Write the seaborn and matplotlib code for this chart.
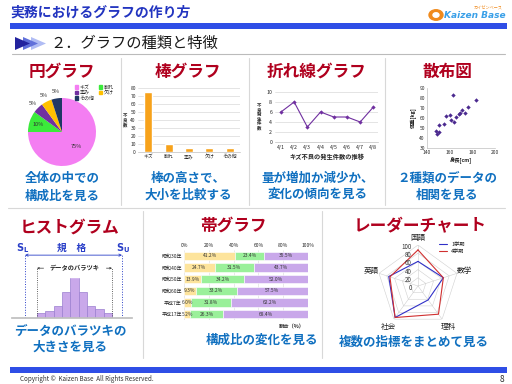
import numpy as np
import matplotlib
matplotlib.use('Agg')
import matplotlib.pyplot as plt
import seaborn as sns
from matplotlib.lines import Line2D
from matplotlib.patches import Polygon, Circle, Patch
from matplotlib.transforms import offset_copy

# ---- データ ----
pie_labels = ['キズ', '割れ', '歪み', '欠け', 'その他']
pie_values = [75, 10, 5, 5, 5]
pie_colors = ['#F47EF2', '#3BEA3B', '#7030A0', '#FFC000', '#1F3864']

bar_labels = ['キズ', '割れ', '歪み', '欠け', 'その他']
bar_values = [75, 10, 5, 5, 5]

line_dates = ['4/1', '4/2', '4/3', '4/4', '4/5', '4/6', '4/7', '4/8']
line_counts = [6, 8, 3, 6, 5, 5, 4, 7]

heights = [162.5, 148.2, 148.8, 150.2, 150.8, 155.2, 157.0, 160.5, 161.0,
           164.0, 165.7, 167.8, 169.2, 170.7, 173.6, 176.0, 183.3]
weights = [83.3, 47.3, 44.0, 45.7, 53.3, 54.0, 61.7, 63.3, 58.3,
           55.7, 60.7, 64.0, 64.7, 67.7, 65.0, 70.7, 78.3]

hist_classes = [1, 2, 3, 4, 5, 6, 7, 8, 9]
hist_counts = [2, 3, 5, 11, 18, 11, 5, 4, 2]

band_years = ['昭和30年', '昭和40年', '昭和50年', '昭和60年', '平成7年', '平成17年']
band_a = [41.2, 24.7, 13.9, 9.3, 6.0, 5.2]
band_b = [23.4, 31.5, 34.2, 33.2, 31.8, 26.3]
band_c = [35.5, 43.7, 52.0, 57.5, 62.2, 68.4]
band_colors = ['#FDE49C', '#9AF09A', '#C9A8EA']

subjects = ['国語', '数学', '理科', '社会', '英語']
term1 = [60, 65, 42, 95, 75]
term4 = [88, 65, 85, 95, 72]

# ---- 図の準備 ----
sns.set_theme(style='white')
plt.rcParams['font.family'] = ['Noto Sans CJK JP', 'DejaVu Sans']
plt.rcParams['axes.unicode_minus'] = False

W, H = 512, 384
fig = plt.figure(figsize=(W / 100, H / 100), dpi=100)
fig.patch.set_facecolor('white')


def box(x0, y0, x1, y1):
    # ピクセル座標 -> figure座標
    return [x0 / W, 1 - y1 / H, (x1 - x0) / W, (y1 - y0) / H]


def ftext(x, y, s, **kw):
    fig.text(x / W, 1 - y / H, s, **kw)


def fline(x0, y0, x1, y1, **kw):
    fig.add_artist(Line2D([x0 / W, x1 / W], [1 - y0 / H, 1 - y1 / H],
                          transform=fig.transFigure, **kw))


TITLE_C = '#B0001E'
DESC_C = '#1070C0'

# ---- ヘッダー ----
ftext(10, 13, '実務におけるグラフの作り方', fontsize=10, fontweight='bold',
      color='#2234C0', va='center')
fig.add_artist(Polygon([[10 / W, 1 - 23 / H], [507 / W, 1 - 23 / H],
                        [507 / W, 1 - 28.5 / H], [10 / W, 1 - 28.5 / H]],
                       transform=fig.transFigure, color='#2F4EE6', lw=0))
fig.add_artist(Circle((436 / W, 1 - 15 / H), 7 / W, transform=fig.transFigure,
                      color='#F08A1C'))
fig.add_artist(Circle((436 / W, 1 - 15 / H), 3 / W, transform=fig.transFigure,
                      color='white'))
ftext(444, 16, 'Kaizen Base', fontsize=6.5, fontweight='bold', style='italic',
      color='#3AA0E8', va='center', family='DejaVu Sans')
ftext(488, 7, 'カイゼンベース', fontsize=3, color='#F08A1C', va='center', ha='center')

# サブタイトルの矢印
for i, c in zip([2, 1, 0], ['#B0BCF4', '#6070DA', '#23239E']):
    x0 = 15 + i * 8
    fig.add_artist(Polygon([[x0 / W, 1 - 37 / H], [x0 / W, 1 - 50 / H],
                            [(x0 + 15) / W, 1 - 43.5 / H]],
                           transform=fig.transFigure, color=c, lw=0))
ftext(50, 43.5, '２．グラフの種類と特徴', fontsize=11, color='#1A1A1A', va='center')
fline(12, 54, 505, 54, color='#BBBBBB', lw=0.8)

# パネルの区切り線
for x in [121, 249, 385]:
    fline(x, 58, x, 205, color='#D8D8D8', lw=0.8)
fline(8, 208, 505, 208, color='#D8D8D8', lw=0.8)
for x in [143, 322]:
    fline(x, 211, x, 358, color='#D8D8D8', lw=0.8)

# ---- 円グラフ ----
ftext(62, 72, '円グラフ', fontsize=12, fontweight='bold', color=TITLE_C,
      ha='center', va='center')
ax = fig.add_axes(box(28, 98, 96, 166))
wedges, _ = ax.pie(pie_values, colors=pie_colors, startangle=90,
                   counterclock=False, wedgeprops=dict(lw=0))
for w, v in zip(wedges, pie_values):
    ang = np.deg2rad((w.theta1 + w.theta2) / 2)
    r = 0.6 if v > 50 else (0.75 if v >= 10 else 1.2)
    ax.text(r * np.cos(ang), r * np.sin(ang), f'{v}%', fontsize=4,
            ha='center', va='center', color='#333333')
ax.set_xlim(-1, 1)
ax.set_ylim(-1, 1)
ax.set_aspect('equal')
order = [0, 2, 4, 1, 3]
handles = [Patch(color=pie_colors[i], label=pie_labels[i]) for i in order]
fig.legend(handles=handles, ncol=2, loc='upper left',
           bbox_to_anchor=(72 / W, 1 - 82 / H), fontsize=3.6, frameon=False,
           handlelength=0.7, handleheight=0.7, handletextpad=0.3,
           columnspacing=0.8, labelspacing=0.1, borderpad=0)
ftext(62, 179, '全体の中での', fontsize=9, fontweight='bold', color=DESC_C,
      ha='center', va='center')
ftext(62, 196, '構成比を見る', fontsize=9, fontweight='bold', color=DESC_C,
      ha='center', va='center')

# ---- 棒グラフ ----
ftext(188, 72, '棒グラフ', fontsize=12, fontweight='bold', color=TITLE_C,
      ha='center', va='center')
ax = fig.add_axes(box(138, 88, 240, 152))
sns.barplot(x=bar_labels, y=bar_values, color='#F7A21B', width=0.4,
            saturation=1, ax=ax)
ax.set_ylim(0, 80)
ax.set_yticks(range(0, 81, 10))
ax.yaxis.grid(True, color='#D9D9D9', lw=0.5)
ax.set_axisbelow(True)
ax.tick_params(labelsize=3.5, length=0, pad=1.5)
for s in ['top', 'right', 'left']:
    ax.spines[s].set_visible(False)
ax.spines['bottom'].set_color('#BFBFBF')
ax.spines['bottom'].set_linewidth(0.5)
ax.set_ylabel('不\n良\n数', fontsize=3.2, rotation=0, labelpad=4,
              va='center', linespacing=0.9, fontweight='bold')
ftext(188, 178, '棒の高さで、', fontsize=9, fontweight='bold', color=DESC_C,
      ha='center', va='center')
ftext(188, 195, '大小を比較する', fontsize=9, fontweight='bold', color=DESC_C,
      ha='center', va='center')

# ---- 折れ線グラフ ----
ftext(317, 72, '折れ線グラフ', fontsize=12, fontweight='bold', color=TITLE_C,
      ha='center', va='center')
ax = fig.add_axes(box(275, 92, 378, 142))
sns.lineplot(x=line_dates, y=line_counts, color='#7030A0', marker='D',
             markersize=2.2, markeredgewidth=0, lw=0.8, ax=ax)
ax.set_ylim(0, 10)
ax.set_yticks(range(0, 11, 2))
ax.set_xlim(-0.45, 7.35)
ax.yaxis.grid(True, color='#D9D9D9', lw=0.5)
ax.set_axisbelow(True)
ax.tick_params(labelsize=3.8, length=0, pad=2)
for s in ['top', 'right', 'left']:
    ax.spines[s].set_visible(False)
ax.spines['bottom'].set_color('#BFBFBF')
ax.spines['bottom'].set_linewidth(0.5)
ax.set_ylabel('不\n良\n発\n生\n件\n数', fontsize=3.2, rotation=0, labelpad=5,
              va='center', linespacing=0.9, fontweight='bold')
ax.set_xlabel('キズ不良の発生件数の推移', fontsize=4.5, fontweight='bold',
              labelpad=2)
ftext(318, 178, '量が増加か減少か、', fontsize=9, fontweight='bold', color=DESC_C,
      ha='center', va='center')
ftext(318, 194, '変化の傾向を見る', fontsize=9, fontweight='bold', color=DESC_C,
      ha='center', va='center')

# ---- 散布図 ----
ftext(447, 72, '散布図', fontsize=12, fontweight='bold', color=TITLE_C,
      ha='center', va='center')
ax = fig.add_axes(box(427, 88, 495, 148))
sns.scatterplot(x=heights, y=weights, color='#4B2A8F', marker='D', s=5,
                linewidth=0, ax=ax)
ax.set_xlim(140, 200)
ax.set_ylim(30, 90)
ax.set_xticks(range(140, 201, 20))
ax.set_yticks(range(30, 91, 10))
ax.tick_params(labelsize=3.5, length=0, pad=1.5)
for s in ['top', 'right']:
    ax.spines[s].set_visible(False)
for s in ['left', 'bottom']:
    ax.spines[s].set_color('#BFBFBF')
    ax.spines[s].set_linewidth(0.5)
ax.set_xlabel('身長[cm]', fontsize=3.8, fontweight='bold', labelpad=1.5)
ax.set_ylabel('体重[kg]', fontsize=3.8, fontweight='bold', labelpad=1.5)
ftext(447, 178, '２種類のデータの', fontsize=9, fontweight='bold', color=DESC_C,
      ha='center', va='center')
ftext(447, 195, '相関を見る', fontsize=9, fontweight='bold', color=DESC_C,
      ha='center', va='center')

# ---- ヒストグラム ----
ftext(70, 228, 'ヒストグラム', fontsize=12, fontweight='bold', color=TITLE_C,
      ha='center', va='center')
ax = fig.add_axes(box(12, 240, 132, 318))
sns.histplot(x=hist_classes, weights=hist_counts, discrete=True,
             color='#C9A8EA', edgecolor='#9B7FD0', linewidth=0.5, alpha=1, ax=ax)
ax.set_xlim(-2.5, 11.9)
ax.set_ylim(0, 33.5)
ax.set_xticks([])
ax.set_yticks([])
ax.set_ylabel('')
for s in ['top', 'right', 'left']:
    ax.spines[s].set_visible(False)
ax.spines['bottom'].set_color('#BFBFBF')
sl, su = -0.94, 10.7
blue = '#2A3FC8'
for x in [sl, su]:
    ax.plot([x, x], [0, 27], ls=':', color=blue, lw=0.7)
ax.annotate('', xy=(sl, 27), xytext=(su, 27),
            arrowprops=dict(arrowstyle='<->', color=blue, lw=0.6,
                            mutation_scale=4, shrinkA=0, shrinkB=0))
for x in [0.5, 9.5]:
    ax.plot([x, x], [0, 21.4], ls=':', color='#333333', lw=0.6)
ax.annotate('', xy=(0.5, 21.4), xytext=(9.5, 21.4),
            arrowprops=dict(arrowstyle='<->', color='#333333', lw=0.5,
                            mutation_scale=3, shrinkA=0, shrinkB=0))
ax.text(5, 21.4, 'データのバラツキ', fontsize=4.5, fontweight='bold',
        ha='center', va='center', backgroundcolor='white', color='#222222')
ftext(23, 248, r'$\mathbf{S_L}$', fontsize=7, color=blue, ha='center', va='center')
ftext(123, 248, r'$\mathbf{S_U}$', fontsize=7, color=blue, ha='center', va='center')
ftext(72, 248, '規　格', fontsize=7, fontweight='bold', color=blue,
      ha='center', va='center')
ftext(70, 331, 'データのバラツキの', fontsize=9, fontweight='bold', color=DESC_C,
      ha='center', va='center')
ftext(70, 347, '大きさを見る', fontsize=9, fontweight='bold', color=DESC_C,
      ha='center', va='center')

# ---- 帯グラフ ----
ftext(233, 226, '帯グラフ', fontsize=12, fontweight='bold', color=TITLE_C,
      ha='center', va='center')
ax = fig.add_axes(box(184, 250, 308, 320))
left = np.zeros(len(band_years))
for vals, c in zip([band_a, band_b, band_c], band_colors):
    bars = ax.barh(band_years, vals, left=left, color=c, height=0.72,
                   edgecolor='white', linewidth=0.4)
    ax.bar_label(bars, labels=[f'{v:.1f}%' for v in vals], label_type='center',
                 fontsize=3.5, color='#333333')
    left += np.array(vals)
ax.set_xlim(0, 100)
ax.set_ylim(len(band_years) - 0.5, -0.5)
ax.set_xticks(range(0, 101, 20))
ax.set_xticklabels([f'{v}%' for v in range(0, 101, 20)])
ax.xaxis.tick_top()
ax.xaxis.grid(True, color='#D9D9D9', lw=0.4)
ax.set_axisbelow(True)
ax.tick_params(labelsize=3.6, length=0, pad=1.5)
for s in ax.spines.values():
    s.set_visible(False)
ftext(305, 327, '割合（%）', fontsize=3.8, fontweight='bold', ha='right',
      va='center')
ftext(262, 340, '構成比の変化を見る', fontsize=9, fontweight='bold', color=DESC_C,
      ha='center', va='center')

# ---- レーダーチャート ----
ftext(420, 226, 'レーダーチャート', fontsize=12, fontweight='bold', color=TITLE_C,
      ha='center', va='center')
ax = fig.add_axes(box(377, 245, 459, 327), projection='polar')
ax.set_theta_offset(np.pi / 2)
ax.set_theta_direction(-1)
angles = np.linspace(0, 2 * np.pi, len(subjects), endpoint=False)
closed = np.append(angles, angles[0])
for r in range(20, 101, 20):
    ax.plot(closed, [r] * len(closed), color='#D0D0D0', lw=0.4)
ax.plot(closed, term1 + term1[:1], color='#3030C8', lw=0.8, label='1学期')
ax.plot(closed, term4 + term4[:1], color='#D03030', lw=0.8, label='4学期')
ax.set_ylim(0, 100)
ax.set_xticks(angles)
ax.set_xticklabels([])
for a, s, r in zip(angles, subjects, [117, 120, 124, 124, 120]):
    ax.text(a, r, s, fontsize=5.5, ha='center', va='center', color='#222222')
ax.set_yticks(range(0, 101, 20))
ax.set_yticklabels([])
ax.yaxis.grid(False)
ax.xaxis.grid(True, color='#D0D0D0', lw=0.4)
ax.spines['polar'].set_visible(False)
ax.set_facecolor('none')
trans = offset_copy(ax.transData, fig=fig, x=-4.5, y=-1.5, units='points')
for r in range(0, 101, 20):
    ax.text(0, r, str(r), fontsize=4.5, ha='right', va='center',
            transform=trans, color='#333333')
ax.legend(loc='upper left', bbox_to_anchor=(436 / W, 1 - 239 / H),
          bbox_transform=fig.transFigure, fontsize=3.8, frameon=False,
          handlelength=1.6, labelspacing=0.4, borderpad=0)
ftext(414, 342, '複数の指標をまとめて見る', fontsize=9, fontweight='bold',
      color=DESC_C, ha='center', va='center')

# ---- フッター ----
fig.add_artist(Polygon([[10 / W, 1 - 367 / H], [507 / W, 1 - 367 / H],
                        [507 / W, 1 - 373 / H], [10 / W, 1 - 373 / H]],
                       transform=fig.transFigure, color='#2F4EE6', lw=0))
ftext(20, 379, 'Copyright ©  Kaizen Base  All Rights Reserved.', fontsize=4.5,
      color='#333333', va='center')
ftext(502, 379, '8', fontsize=6, color='#333333', va='center', ha='center')

fig.savefig('out.png', dpi=100)
